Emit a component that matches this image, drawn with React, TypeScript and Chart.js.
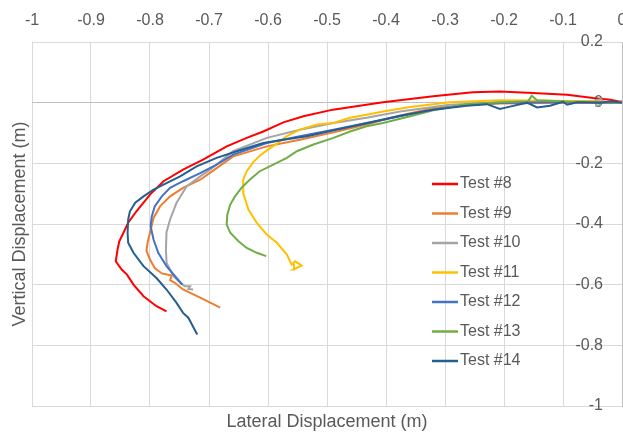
import { useEffect, useRef } from "react";
import { Chart, registerables } from "chart.js";

Chart.register(...registerables);

const FONT = "'Liberation Sans', Arial, sans-serif";
const TEXT = "#595959";

const testNames = ["Test #8", "Test #9", "Test #10", "Test #11", "Test #12", "Test #13", "Test #14"];
const testColors = ["#FF0000", "#ED7D31", "#A5A5A5", "#FFC000", "#4472C4", "#70AD47", "#255E91"];

const xAxisRange = [-1, 0];
const yAxisRange = [-1, 0.2];
const xTickStep = 0.1;
const yTickStep = 0.2;

const test8X = [0, -0.003, -0.02, -0.049, -0.093, -0.151, -0.207, -0.253, -0.32, -0.405, -0.49, -0.54, -0.574, -0.608, -0.636, -0.67, -0.71, -0.744, -0.777, -0.8, -0.823, -0.837, -0.845, -0.852, -0.855, -0.858, -0.848, -0.839, -0.828, -0.811, -0.789, -0.772];
const test8Y = [0.005, 0.003, 0.01, 0.015, 0.026, 0.032, 0.037, 0.034, 0.021, 0.001, -0.023, -0.045, -0.065, -0.095, -0.116, -0.144, -0.188, -0.221, -0.259, -0.303, -0.358, -0.396, -0.429, -0.457, -0.484, -0.523, -0.55, -0.567, -0.6, -0.638, -0.671, -0.688];

const test9X = [0, -0.1, -0.207, -0.263, -0.32, -0.376, -0.433, -0.489, -0.546, -0.602, -0.659, -0.687, -0.715, -0.744, -0.766, -0.783, -0.794, -0.8, -0.804, -0.806, -0.8, -0.792, -0.78, -0.763, -0.766, -0.758, -0.744, -0.715, -0.681];
const test9Y = [0, 0.0, -0.003, -0.008, -0.018, -0.042, -0.072, -0.098, -0.122, -0.144, -0.177, -0.216, -0.254, -0.281, -0.309, -0.342, -0.38, -0.429, -0.46, -0.488, -0.517, -0.545, -0.563, -0.57, -0.585, -0.594, -0.616, -0.643, -0.676];

const test10X = [0, -0.015, -0.03, -0.036, -0.044, -0.044, -0.036, -0.037, -0.06, -0.1, -0.207, -0.292, -0.376, -0.433, -0.489, -0.546, -0.602, -0.659, -0.67, -0.698, -0.715, -0.738, -0.755, -0.766, -0.772, -0.773, -0.772, -0.76, -0.749, -0.741, -0.732, -0.735, -0.727];
const test10Y = [0, 0.002, 0.002, 0.012, 0.008, -0.01, -0.008, 0.004, 0.004, 0.004, 0.001, -0.007, -0.029, -0.05, -0.067, -0.089, -0.116, -0.16, -0.177, -0.221, -0.243, -0.276, -0.33, -0.385, -0.427, -0.484, -0.528, -0.572, -0.594, -0.605, -0.605, -0.614, -0.616];

const test11X = [0, -0.037, -0.12, -0.207, -0.292, -0.359, -0.405, -0.433, -0.461, -0.489, -0.517, -0.546, -0.568, -0.585, -0.6, -0.614, -0.625, -0.636, -0.642, -0.642, -0.633, -0.619, -0.602, -0.585, -0.568, -0.56, -0.554, -0.543, -0.557, -0.556];
const test11Y = [0, 0.004, 0.006, 0.008, 0.001, -0.014, -0.029, -0.04, -0.05, -0.067, -0.072, -0.089, -0.11, -0.135, -0.155, -0.175, -0.196, -0.226, -0.254, -0.298, -0.353, -0.396, -0.435, -0.462, -0.501, -0.534, -0.523, -0.537, -0.55, -0.53];

const test12X = [0, -0.1, -0.207, -0.263, -0.32, -0.376, -0.433, -0.489, -0.546, -0.602, -0.659, -0.687, -0.715, -0.744, -0.766, -0.78, -0.792, -0.797, -0.799, -0.794, -0.786, -0.772, -0.755, -0.745];
const test12Y = [0, 0.002, -0.001, -0.007, -0.023, -0.045, -0.067, -0.089, -0.111, -0.133, -0.171, -0.204, -0.232, -0.259, -0.281, -0.309, -0.342, -0.375, -0.407, -0.451, -0.495, -0.539, -0.578, -0.6];

const test13X = [0, -0.05, -0.093, -0.144, -0.153, -0.159, -0.207, -0.263, -0.32, -0.359, -0.405, -0.433, -0.461, -0.489, -0.523, -0.551, -0.568, -0.591, -0.614, -0.631, -0.645, -0.656, -0.664, -0.669, -0.67, -0.664, -0.65, -0.636, -0.619, -0.603];
const test13Y = [0, 0.003, 0.004, 0.008, 0.023, 0.005, 0.001, -0.005, -0.025, -0.045, -0.067, -0.078, -0.095, -0.116, -0.138, -0.16, -0.182, -0.204, -0.226, -0.254, -0.281, -0.309, -0.336, -0.369, -0.402, -0.429, -0.457, -0.479, -0.495, -0.506];

const test14X = [0, -0.003, -0.02, -0.037, -0.076, -0.093, -0.1, -0.122, -0.144, -0.161, -0.19, -0.207, -0.229, -0.263, -0.32, -0.376, -0.433, -0.49, -0.534, -0.574, -0.608, -0.653, -0.687, -0.721, -0.749, -0.772, -0.794, -0.811, -0.825, -0.834, -0.837, -0.838, -0.837, -0.828, -0.811, -0.789, -0.772, -0.755, -0.744, -0.735, -0.72];
const test14Y = [0, 0.001, 0.004, 0.0, 0.001, -0.007, 0.003, -0.01, -0.016, 0.0, -0.013, -0.021, -0.005, -0.01, -0.023, -0.043, -0.068, -0.092, -0.111, -0.122, -0.133, -0.16, -0.182, -0.21, -0.243, -0.265, -0.287, -0.309, -0.33, -0.358, -0.385, -0.429, -0.462, -0.495, -0.539, -0.578, -0.616, -0.66, -0.693, -0.709, -0.764];

const seriesX = [test8X, test9X, test10X, test11X, test12X, test13X, test14X];
const seriesY = [test8Y, test9Y, test10Y, test11Y, test12Y, test13Y, test14Y];

const fmt = (v: number) => String(Math.round(v * 10) / 10);

const insideLegend = {
  id: "insideLegend",
  afterDraw(chart: any) {
    const ctx = chart.ctx;
    ctx.save();
    chart.data.datasets.forEach((ds: any, i: number) => {
      const y = 184 + i * 29.5;
      ctx.strokeStyle = ds.borderColor;
      ctx.lineWidth = 2.5;
      ctx.beginPath();
      ctx.moveTo(432, y);
      ctx.lineTo(458, y);
      ctx.stroke();
      ctx.fillStyle = TEXT;
      ctx.font = `16px ${FONT}`;
      ctx.textBaseline = "middle";
      ctx.textAlign = "left";
      ctx.fillText(ds.label, 460, y);
    });
    ctx.restore();
  },
};

export default function App() {
  const ref = useRef<HTMLCanvasElement>(null);
  useEffect(() => {
    if (!ref.current) return;
    const datasets = testNames.map((name, i) => ({
      label: name,
      data: seriesX[i].map((x, j) => ({ x, y: seriesY[i][j] })),
      borderColor: testColors[i],
      backgroundColor: testColors[i],
      borderWidth: 2,
      pointRadius: 0,
      showLine: true,
      tension: 0,
      order: testNames.length - i,
    }));
    const chart = new Chart(ref.current, {
      type: "scatter",
      data: { datasets },
      plugins: [insideLegend],
      options: {
        animation: false,
        responsive: true,
        maintainAspectRatio: false,
        layout: { padding: 0 },
        plugins: { legend: { display: false }, tooltip: { enabled: false }, title: { display: false } },
        scales: {
          x: {
            type: "linear",
            position: "top",
            min: xAxisRange[0],
            max: xAxisRange[1],
            ticks: { stepSize: xTickStep, color: TEXT, font: { family: FONT, size: 16 }, padding: 12, autoSkip: false, maxRotation: 0, callback: (v: any) => fmt(v) },
            grid: { color: "#d9d9d9", drawTicks: false },
            border: { display: false },
            afterFit: (s: any) => { s.height = 42; s.paddingLeft = 0; s.paddingRight = 0; },
          },
          y: {
            type: "linear",
            position: "right",
            min: yAxisRange[0],
            max: yAxisRange[1],
            ticks: { stepSize: yTickStep, mirror: true, padding: -19, color: TEXT, font: { family: FONT, size: 16 }, callback: (v: any) => fmt(v) },
            grid: { color: (c: any) => (Math.abs(c.tick.value) < 1e-9 ? "#bfbfbf" : "#d9d9d9"), drawTicks: false },
            border: { display: true, color: "#bfbfbf" },
            afterFit: (s: any) => { s.width = 1; s.paddingTop = 0; s.paddingBottom = 0; },
          },
          xTitle: {
            type: "linear",
            position: "bottom",
            ticks: { display: false },
            grid: { display: false },
            border: { display: false },
            title: { display: true, text: "Lateral Displacement (m)", color: TEXT, font: { family: FONT, size: 18 }, padding: { top: 0, bottom: 0 } },
            afterFit: (s: any) => { s.height = 27; },
          },
          yTitle: {
            type: "linear",
            position: "left",
            ticks: { display: false },
            grid: { display: false },
            border: { display: false },
            title: { display: true, text: "Vertical Displacement (m)", color: TEXT, font: { family: FONT, size: 18 }, padding: { top: 9, bottom: 0 } },
            afterFit: (s: any) => { s.width = 32; },
          },
        },
      } as any,
    });
    return () => chart.destroy();
  }, []);
  return (
    <div style={{ position: "fixed", left: 0, top: 0, width: 623, height: 433, background: "#fff" }}>
      <canvas ref={ref} />
    </div>
  );
}
